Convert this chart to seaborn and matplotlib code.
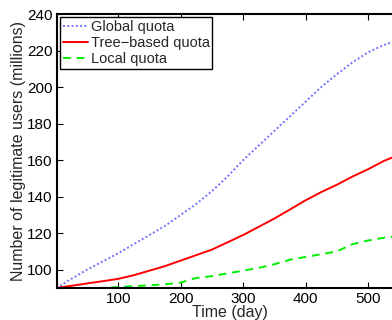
import numpy as np
import pandas as pd
import matplotlib
matplotlib.use("Agg")
import matplotlib.pyplot as plt
import seaborn as sns

# ===============================
# Data
# ===============================
days = [1, 25, 50, 75, 100, 125, 150, 175, 200, 225, 250, 275,
        300, 325, 350, 375, 400, 425, 450, 475, 500, 525, 550]
global_quota = [90, 95, 100, 104.5, 109, 114, 119, 124, 130, 136, 143, 151,
                160, 168, 176, 184, 192, 200, 207, 213.5, 219, 223, 226]
tree_quota = [90, 91.2, 92.5, 93.7, 95, 97, 99.5, 102, 105, 108, 111, 115,
              119, 123.5, 128, 133, 138, 142.5, 146.5, 151, 155, 159.5, 163]
local_quota = [90, 90, 90, 90, 90.5, 91, 91.5, 92, 93, 95.5, 96.5, 98,
               99.5, 101, 103, 105.5, 107, 108.5, 110, 114, 116, 117.5, 118.5]
series_names = ["Global quota", "Tree\u2212based quota", "Local quota"]
y_ticks = [100, 120, 140, 160, 180, 200, 220, 240]
x_ticks = [100, 200, 300, 400, 500]

df = pd.DataFrame({
    "day": days * 3,
    "users": global_quota + tree_quota + local_quota,
    "series": [series_names[0]] * len(days) + [series_names[1]] * len(days)
              + [series_names[2]] * len(days),
})

# ===============================
# Plot
# ===============================
sns.set_style("ticks")
plt.rcParams["font.family"] = ["Liberation Sans", "DejaVu Sans"]
plt.rcParams["xtick.direction"] = "in"
plt.rcParams["ytick.direction"] = "in"

fig = plt.figure(figsize=(3.92, 3.2), dpi=100)
# the original figure was cropped on the right, so the axes run past the edge
ax = fig.add_axes([57 / 392, 32 / 320, 346 / 392, 274 / 320])

palette = {series_names[0]: "#7272ff", series_names[1]: "#ff0000",
           series_names[2]: "#00ee00"}
dashes = {series_names[0]: (1, 1.2), series_names[1]: "", series_names[2]: (4, 3)}
sns.lineplot(data=df, x="day", y="users", hue="series", style="series",
             palette=palette, dashes=dashes, linewidth=1.4, ax=ax)

ax.set_xlim(2, 556)
ax.set_ylim(90, 240)
ax.set_xticks(x_ticks)
ax.set_yticks(y_ticks)
ax.tick_params(labelsize=11, length=4, width=0.8, top=True, right=True,
               colors="black", pad=3)
for s in ax.spines.values():
    s.set_linewidth(1.5)
    s.set_color("black")

ax.set_xlabel("Time (day)", fontsize=11.5, labelpad=-1)
ax.set_ylabel("Number of legitimate users (millions)", fontsize=11.5, labelpad=1)

leg = ax.legend(loc="upper left", fontsize=10.5, frameon=True, fancybox=False,
                edgecolor="black", framealpha=1, borderaxespad=0.2,
                borderpad=0.2, labelspacing=0.15, handlelength=1.7,
                handletextpad=0.2)
leg.get_frame().set_linewidth(1.0)

fig.savefig("out.png", dpi=100)
